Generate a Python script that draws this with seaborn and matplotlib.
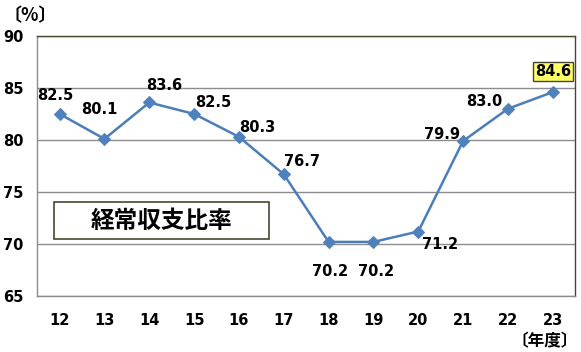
import matplotlib
matplotlib.use('Agg')
import matplotlib.pyplot as plt
from matplotlib.patches import Rectangle
import seaborn as sns
import pandas as pd

years = ['12', '13', '14', '15', '16', '17', '18', '19', '20', '21', '22', '23']
ratio = [82.5, 80.1, 83.6, 82.5, 80.3, 76.7, 70.2, 70.2, 71.2, 79.9, 83.0, 84.6]
# label offsets in points (dx, dy) relative to each marker
label_offsets = [(-3, 13), (-4, 21), (11, 12), (14, 8), (13, 7), (13, 9),
                 (1, -21), (2, -21), (16, -9), (-15, 5), (-17, 5), (0, 15)]

sns.set_style('white')
plt.rcParams['font.family'] = ['DejaVu Sans', 'Noto Sans CJK JP']
plt.rcParams['text.color'] = 'black'
plt.rcParams['xtick.color'] = 'black'
plt.rcParams['ytick.color'] = 'black'

df = pd.DataFrame({'year': years, 'ratio': ratio, 'x': range(len(years))})

fig = plt.figure(figsize=(5.81, 3.52), dpi=100)
ax = fig.add_axes([0.064, 0.159, 0.926, 0.739])

sns.lineplot(data=df, x='x', y='ratio', ax=ax, color='#4a7ebb', linewidth=1.8,
             marker='D', markersize=6.5, markerfacecolor='#4f81bd',
             markeredgecolor='#4f81bd')

ax.set_xlim(-0.5, len(years) - 0.5)
ax.set_ylim(65, 90)
ax.set_yticks(range(65, 91, 5))
ax.yaxis.grid(True, color='#8c8c8c', linewidth=1)
ax.set_axisbelow(True)

ax.set_xticks(range(len(years)))
ax.set_xticklabels(years, fontsize=10.5, fontweight='bold')
ax.set_xticks([i - 0.5 for i in range(len(years) + 1)], minor=True)
ax.tick_params(axis='x', which='major', length=0, pad=12)
ax.tick_params(axis='x', which='minor', length=5, color='#8c8c8c', width=1)
ax.tick_params(axis='y', length=4, color='#8c8c8c', width=1, labelsize=10.5, pad=6)
for lbl in ax.get_yticklabels():
    lbl.set_fontweight('bold')
ax.set_xlabel('')
ax.set_ylabel('')

for side in ['left', 'bottom']:
    ax.spines[side].set_color('#8c8c8c')
    ax.spines[side].set_linewidth(1)
for side in ['top', 'right']:
    ax.spines[side].set_color('#4a4530')
    ax.spines[side].set_linewidth(1)

for i, (v, off) in enumerate(zip(ratio, label_offsets)):
    kw = {}
    if i == len(ratio) - 1:
        kw['bbox'] = dict(boxstyle='square,pad=0.15', facecolor='#ffff66',
                          edgecolor='#4a4530', linewidth=1)
    ax.annotate(f'{v:.1f}', (i, v), xytext=off, textcoords='offset points',
                ha='center', va='center', fontsize=10.5, fontweight='bold', **kw)

# title box
ax.add_patch(Rectangle((0.032, 0.219), 0.399, 0.143, transform=ax.transAxes,
                       facecolor='white', edgecolor='#4a4530', linewidth=1.2,
                       zorder=5))
ax.text(0.2315, 0.29, '経常収支比率', transform=ax.transAxes, ha='center',
        va='center', fontsize=17, fontweight='bold', family=['Noto Sans CJK JP'],
        zorder=6)

fig.text(0.006, 0.955, '〔%〕', ha='left', va='center', fontsize=13,
         fontweight='bold', family=['Noto Sans CJK JP', 'DejaVu Sans'])
fig.text(0.994, 0.03, '〔年度〕', ha='right', va='center', fontsize=12,
         fontweight='bold', family=['Noto Sans CJK JP', 'DejaVu Sans'])

fig.savefig('out.png', dpi=100)
